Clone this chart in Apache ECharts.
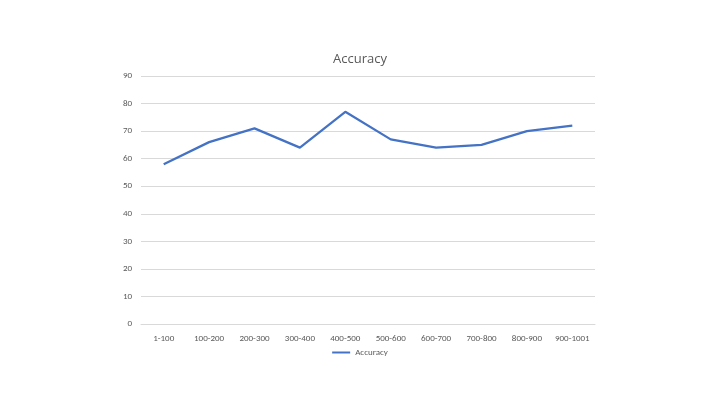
<!DOCTYPE html>
<html><head><meta charset="utf-8">
<script src="https://cdn.jsdelivr.net/npm/echarts@6/dist/echarts.min.js"></script>
<style>html,body{margin:0;padding:0;background:#fff}#c{width:720px;height:408px}</style>
</head><body><div id="c"></div>
<script>
const categories = ["1-100","100-200","200-300","300-400","400-500","500-600","600-700","700-800","800-900","900-1001"];
const accuracy = [58,66,71,64,77,67,64,65,70,72];
const seriesName = "Accuracy";
const chart = echarts.init(document.getElementById('c'));
chart.setOption({
  animation:false,
  textStyle:{fontFamily:'Calibri, Carlito, "Liberation Sans", sans-serif'},
  title:{text:'Accuracy',left:'center',top:48,textStyle:{fontSize:13,fontWeight:'normal',color:'#595959',fontFamily:'"Open Sans", sans-serif'}},
  legend:{bottom:46,left:'center',itemWidth:18,itemHeight:2,icon:'rect',textStyle:{fontSize:9,color:'#595959'},data:[seriesName]},
  grid:{left:141,right:125,top:76,bottom:84},
  xAxis:{type:'category',data:categories,boundaryGap:true,
    axisLine:{lineStyle:{color:'#d9d9d9'}},axisTick:{show:false},
    axisLabel:{fontSize:9,color:'#595959',margin:10}},
  yAxis:{type:'value',min:0,max:90,interval:10,
    axisLine:{show:false},axisTick:{show:false},
    axisLabel:{fontSize:9,color:'#595959',margin:9},
    splitLine:{lineStyle:{color:'#d9d9d9'}}},
  series:[{name:seriesName,type:'line',data:accuracy,symbol:'none',lineStyle:{color:'#4472C4',width:2.25},itemStyle:{color:'#4472C4'}}]
});
</script></body></html>
